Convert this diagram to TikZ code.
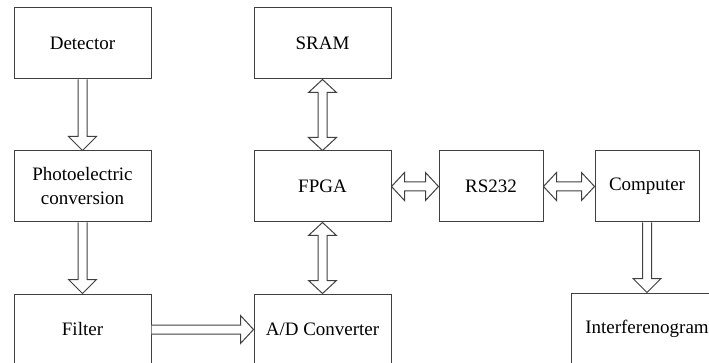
\documentclass[tikz,border=0pt]{standalone}
\usepackage{fontspec}
\setmainfont{Liberation Serif}
\usetikzlibrary{calc,positioning}

% hollow block arrows between two anchors (head 28pt wide, 14pt long, shaft 9pt)
\newcommand{\downblock}[2]{%
  \draw[blockarrow] let \p1=(#1), \p2=(#2) in
    (\x1-4.5pt,\y1) -- (\x1-4.5pt,\y2+14pt) -- (\x1-14pt,\y2+14pt) -- (\x1,\y2)
    -- (\x1+14pt,\y2+14pt) -- (\x1+4.5pt,\y2+14pt) -- (\x1+4.5pt,\y1);}
\newcommand{\rightblock}[2]{%
  \draw[blockarrow] let \p1=(#1), \p2=(#2) in
    (\x1,\y1+4.5pt) -- (\x2-13pt,\y1+4.5pt) -- (\x2-13pt,\y1+14pt) -- (\x2,\y1)
    -- (\x2-13pt,\y1-14pt) -- (\x2-13pt,\y1-4.5pt) -- (\x1,\y1-4.5pt);}
\newcommand{\vdoubleblock}[2]{%
  \draw[blockarrow] let \p1=(#1), \p2=(#2) in
    (\x1,\y1) -- (\x1+14pt,\y1-13pt) -- (\x1+4.5pt,\y1-13pt) -- (\x1+4.5pt,\y2+13pt)
    -- (\x1+14pt,\y2+13pt) -- (\x1,\y2) -- (\x1-14pt,\y2+13pt) -- (\x1-4.5pt,\y2+13pt)
    -- (\x1-4.5pt,\y1-13pt) -- (\x1-14pt,\y1-13pt) -- cycle;}
\newcommand{\hdoubleblock}[2]{%
  \draw[blockarrow] let \p1=(#1), \p2=(#2) in
    (\x1,\y1) -- (\x1+13pt,\y1+14pt) -- (\x1+13pt,\y1+4.5pt) -- (\x2-13pt,\y1+4.5pt)
    -- (\x2-13pt,\y1+14pt) -- (\x2,\y1) -- (\x2-13pt,\y1-14pt) -- (\x2-13pt,\y1-4.5pt)
    -- (\x1+13pt,\y1-4.5pt) -- (\x1+13pt,\y1-14pt) -- cycle;}

\begin{document}
\begin{tikzpicture}[
    x=1pt, y=-1pt,
    font=\fontsize{19}{24}\selectfont,
    box/.style={draw=black!75, line width=1pt, align=center, inner sep=0pt,
                minimum width=137pt, minimum height=71pt},
    smallbox/.style={box, minimum width=104pt},
    blockarrow/.style={draw=black!75, line width=1pt, fill=white, line join=miter}
]
\clip (0,0) rectangle (709,363);
\fill[white] (0,0) rectangle (709,363);

\node[box] (detector) at (82.5,43.5) {Detector};
\node[box, below=71pt of detector] (photo) {Photoelectric\\conversion};
\node[box, below=71pt of photo] (filter) {Filter};
\node[box, right=102pt of detector] (sram) {SRAM};
\node[box, below=71pt of sram] (fpga) {FPGA};
\node[box, below=71pt of fpga] (adc) {A/D Converter};
\node[smallbox, right=47pt of fpga] (rs232) {RS232};
\node[smallbox, right=51pt of rs232] (computer) {Computer};
\node[box, minimum width=152pt, below=70pt of computer] (interf) {Interferenogram};

\downblock{detector.south}{photo.north}
\downblock{photo.south}{filter.north}
\downblock{computer.south}{interf.north}
\rightblock{filter.east}{adc.west}
\vdoubleblock{sram.south}{fpga.north}
\vdoubleblock{fpga.south}{adc.north}
\hdoubleblock{fpga.east}{rs232.west}
\hdoubleblock{rs232.east}{computer.west}
\end{tikzpicture}
\end{document}
